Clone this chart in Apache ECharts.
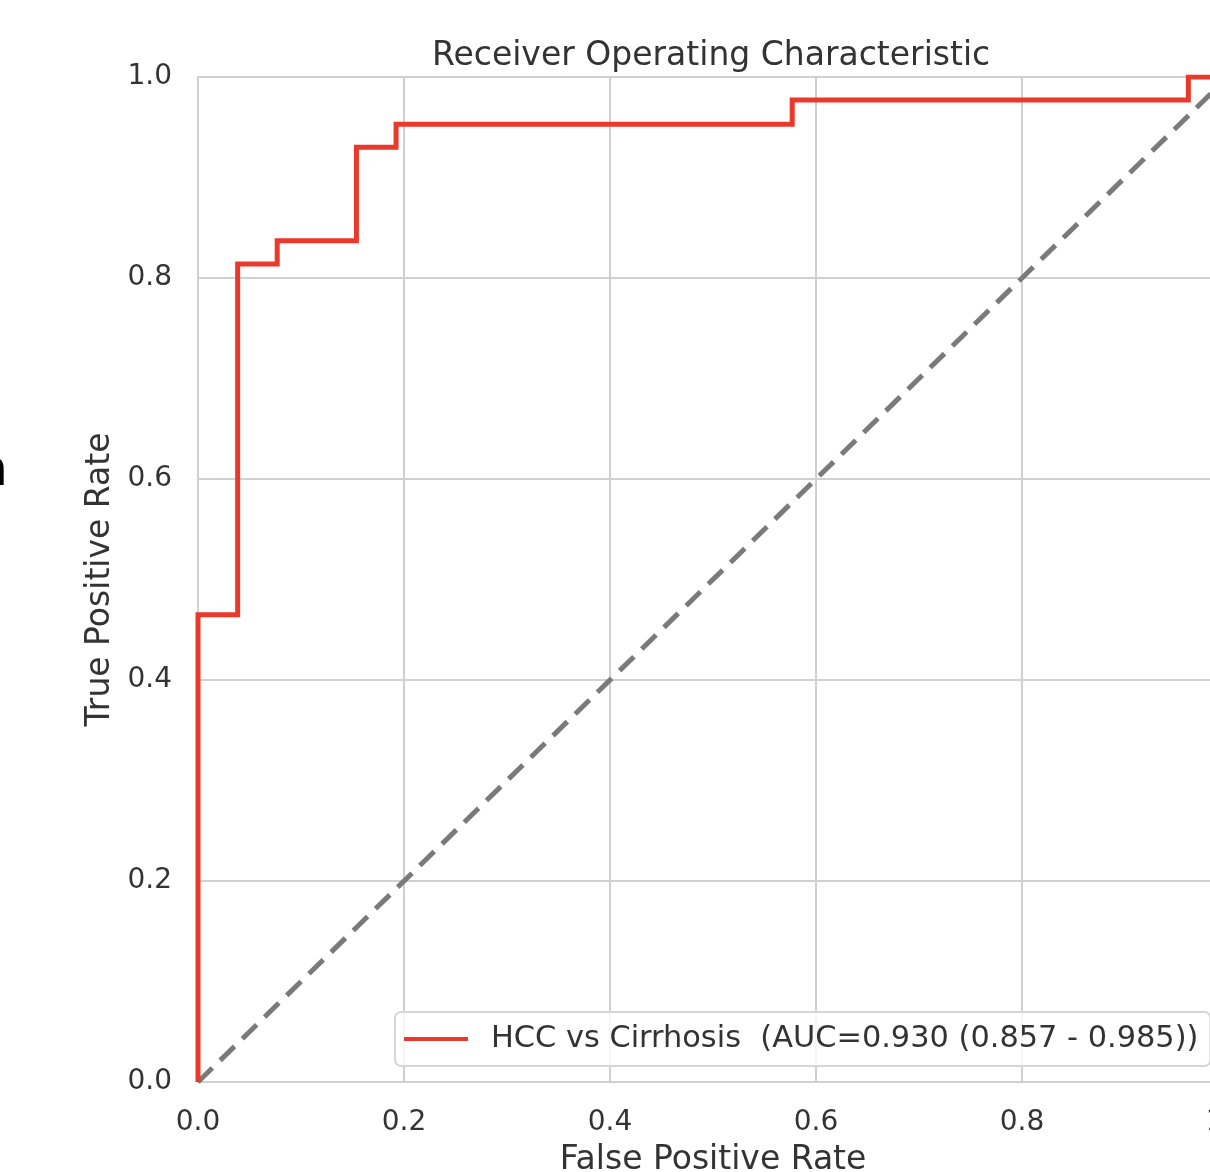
<!DOCTYPE html>
<html>
<head>
<meta charset="utf-8">
<script src="https://cdn.jsdelivr.net/npm/echarts@6/dist/echarts.min.js"></script>
<style>
  html, body { margin: 0; padding: 0; background: #fff; }
  #chart { width: 1210px; height: 1172px; }
</style>
</head>
<body>
<div id="chart"></div>
<script>
// ROC curve corners
const fpr = [0, 0, 0.0385, 0.0385, 0.0769, 0.0769, 0.1538, 0.1538, 0.1923, 0.1923, 0.5769, 0.5769, 0.9615, 0.9615, 1];
const tpr = [0, 0.465, 0.465, 0.814, 0.814, 0.837, 0.837, 0.930, 0.930, 0.953, 0.953, 0.977, 0.977, 1.0, 1.0];
const chanceLine = [[0, 0], [1, 1]];
const curveName = 'HCC vs Cirrhosis  (AUC=0.930 (0.857 - 0.985))';

const textColor = '#333';
const font = '"DejaVu Sans", sans-serif';

let myChart = echarts.init(document.getElementById('chart'));

let axisLabel = {
    color: textColor,
    fontSize: 28,
    fontFamily: font,
    formatter: (v) => v.toFixed(1)
};
let splitLine = {
    show: true,
    lineStyle: { color: '#d0d0d0', width: 2 }
};

let option = {
    backgroundColor: '#fff',
    animation: false,
    title: {
        text: 'Receiver Operating Characteristic',
        left: 432,
        top: 40,
        padding: 0,
        textStyle: { color: textColor, fontSize: 33, fontWeight: 'normal', fontFamily: font }
    },
    grid: {
        left: 198,
        top: 77,
        right: -18,
        bottom: 90,
        outerBoundsMode: 'none',
        containLabel: false,
        show: true,
        borderColor: '#d0d0d0',
        borderWidth: 2
    },
    xAxis: {
        type: 'value',
        min: 0,
        max: 1,
        interval: 0.2,
        name: 'False Positive Rate',
        nameLocation: 'middle',
        nameGap: 62,
        nameTextStyle: { color: textColor, fontSize: 33, fontFamily: font },
        axisLine: { show: false },
        axisTick: { show: false },
        axisLabel: Object.assign({ margin: 27 }, axisLabel),
        splitLine: splitLine
    },
    yAxis: {
        type: 'value',
        min: 0,
        max: 1,
        interval: 0.2,
        name: 'True Positive Rate',
        nameLocation: 'middle',
        nameGap: 76,
        nameTextStyle: { color: textColor, fontSize: 33, fontFamily: font },
        axisLine: { show: false },
        axisTick: { show: false },
        axisLabel: Object.assign({ margin: 26 }, axisLabel),
        splitLine: splitLine
    },
    legend: {
        left: 395,
        top: 1012,
        orient: 'horizontal',
        data: [{ name: curveName, icon: 'rect' }],
        itemWidth: 64,
        itemHeight: 4,
        padding: [12, 12, 12, 9],
        backgroundColor: 'rgba(255,255,255,0.8)',
        borderColor: '#d6d6d6',
        borderWidth: 2,
        borderRadius: 6,
        textStyle: {
            color: textColor,
            fontSize: 30.4,
            fontFamily: font,
            padding: [0, 0, 0, 18]
        }
    },
    graphic: [{
        type: 'text',
        left: -28,
        top: 447,
        style: { text: 'n', fill: '#000', font: 'bold 50px "DejaVu Sans", sans-serif' }
    }],
    series: [
        {
            name: curveName,
            type: 'line',
            data: fpr.map((x, i) => [x, tpr[i]]),
            showSymbol: false,
            clip: true,
            itemStyle: { color: '#e8392b' },
            lineStyle: { color: '#e8392b', width: 5, cap: 'butt', join: 'miter' },
            z: 3
        },
        {
            name: 'chance',
            type: 'line',
            data: chanceLine,
            showSymbol: false,
            lineStyle: { color: '#7a7a7a', width: 5, type: [20, 11] },
            z: 2
        }
    ]
};
myChart.setOption(option);
</script>
</body>
</html>
